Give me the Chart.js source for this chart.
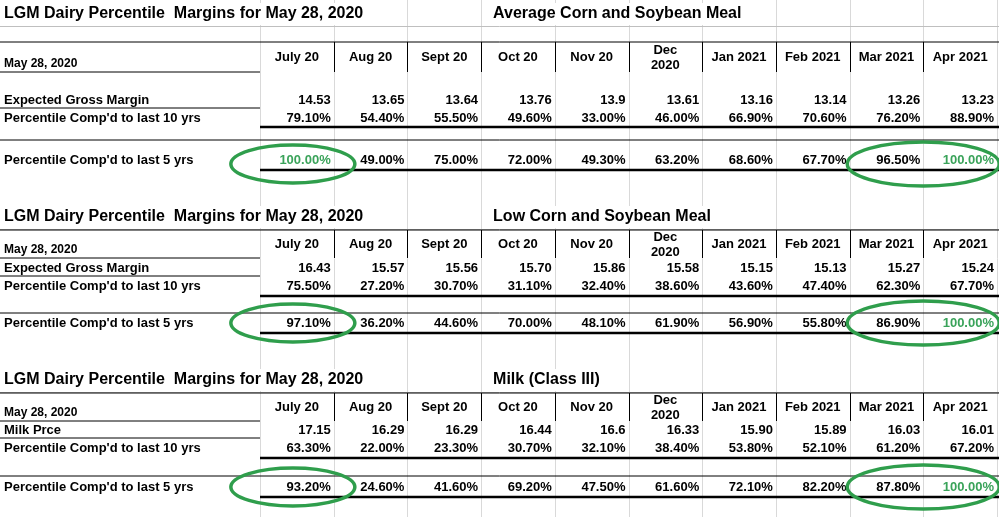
<!DOCTYPE html>
<html><head><meta charset="utf-8">
<script src="https://cdn.jsdelivr.net/npm/chart.js@4/dist/chart.umd.min.js"></script>
<style>html,body{margin:0;padding:0;background:#fff;overflow:hidden}</style>
</head><body>
<canvas id="c" width="999" height="517"></canvas>
<script>
// column headers
const months = ['July 20', 'Aug 20', 'Sept 20', 'Oct 20', 'Nov 20', ['Dec', '2020'], 'Jan 2021', 'Feb 2021', 'Mar 2021', 'Apr 2021'];

// Average corn and soybean meal
const avgMargin = ['14.53', '13.65', '13.64', '13.76', '13.9', '13.61', '13.16', '13.14', '13.26', '13.23'];
const avgPct10 = [79.1, 54.4, 55.5, 49.6, 33.0, 46.0, 66.9, 70.6, 76.2, 88.9];
const avgPct5 = [100, 49.0, 75.0, 72.0, 49.3, 63.2, 68.6, 67.7, 96.5, 100];

// Low corn and soybean meal
const lowMargin = ['16.43', '15.57', '15.56', '15.70', '15.86', '15.58', '15.15', '15.13', '15.27', '15.24'];
const lowPct10 = [75.5, 27.2, 30.7, 31.1, 32.4, 38.6, 43.6, 47.4, 62.3, 67.7];
const lowPct5 = [97.1, 36.2, 44.6, 70.0, 48.1, 61.9, 56.9, 55.8, 86.9, 100];

// Milk (Class III)
const milkPrice = ['17.15', '16.29', '16.29', '16.44', '16.6', '16.33', '15.90', '15.89', '16.03', '16.01'];
const milkPct10 = [63.3, 22.0, 23.3, 30.7, 32.1, 38.4, 53.8, 52.1, 61.2, 67.2];
const milkPct5 = [93.2, 24.6, 41.6, 69.2, 47.5, 61.6, 72.1, 82.2, 87.8, 100];

const sections = [
  {sub: 'Average Corn and Soybean Meal', row1: 'Expected Gross Margin', v1: avgMargin, v10: avgPct10, v5: avgPct5, green: [0, 9],
   y: {title: 14, top: 42, head: 57, label: 64, under: 72, r1: 100, r1line: 108, r10: 118, thick1: 127, r5line: 140, r5: 160, thick2: 170, ell: 164}},
  {sub: 'Low Corn and Soybean Meal', row1: 'Expected Gross Margin', v1: lowMargin, v10: lowPct10, v5: lowPct5, green: [9],
   y: {title: 217, top: 230, head: 244, label: 250, under: 258, r1: 268, r1line: 276, r10: 286, thick1: 296, r5line: 313, r5: 323, thick2: 333, ell: 323}},
  {sub: 'Milk (Class III)', row1: 'Milk Prce', v1: milkPrice, v10: milkPct10, v5: milkPct5, green: [9],
   y: {title: 380, top: 393, head: 407, label: 413, under: 421, r1: 430, r1line: 438, r10: 448, thick1: 458, r5line: 476, r5: 487, thick2: 497, ell: 487}}
];

const pct = v => v.toFixed(2) + '%';

const tablePlugin = {
  id: 'table',
  afterDraw(chart) {
    const ctx = chart.ctx, x = chart.scales.x, y = chart.scales.y;
    const colW = x.getPixelForValue(1) - x.getPixelForValue(0);
    const left = i => x.getPixelForValue(i) - colW / 2;
    const right = i => x.getPixelForValue(i) + colW / 2;
    const labelEnd = left(0);
    ctx.save();
    // faint spreadsheet gridlines
    ctx.strokeStyle = '#d9d9d9'; ctx.lineWidth = 1;
    for (let i = 0; i <= months.length; i++) {
      const px = Math.round(left(0) + i * colW) + 0.5;
      ctx.beginPath(); ctx.moveTo(px, 0); ctx.lineTo(px, 517); ctx.stroke();
    }
    const hline = (x0, x1, py, w, col) => {
      ctx.strokeStyle = col; ctx.lineWidth = w;
      ctx.beginPath(); ctx.moveTo(x0, py); ctx.lineTo(x1, py); ctx.stroke();
    };
    sections.forEach(s => {
      const Y = k => y.getPixelForValue(s.y[k]);
      ctx.textBaseline = 'middle';
      ctx.font = 'bold 16px "Liberation Sans", Arial, sans-serif';
      ctx.textAlign = 'left';
      const t1 = 'LGM Dairy Percentile  Margins for May 28, 2020';
      const t2x = left(3) + 12;
      ctx.fillStyle = '#fff';
      ctx.fillRect(0, Y('title') - 11, ctx.measureText(t1).width + 8, 22);
      ctx.fillRect(t2x - 4, Y('title') - 11, ctx.measureText(s.sub).width + 8, 22);
      ctx.fillStyle = '#000';
      ctx.fillText(t1, 4, Y('title'));
      ctx.fillText(s.sub, t2x, Y('title'));
      hline(0, 999, Y('title') + 12.5, 1, '#bfbfbf');
      hline(0, 999, Y('top'), 1, '#000');
      // header cells
      ctx.font = 'bold 13px "Liberation Sans", Arial, sans-serif';
      ctx.textAlign = 'center';
      months.forEach((m, i) => {
        const cx = x.getPixelForValue(i);
        if (Array.isArray(m)) {
          ctx.fillText(m[0], cx, Y('head') - 7);
          ctx.fillText(m[1], cx, Y('head') + 8);
        } else ctx.fillText(m, cx, Y('head'));
        if (i > 0) {
          ctx.strokeStyle = '#000'; ctx.lineWidth = 1;
          ctx.beginPath(); ctx.moveTo(Math.round(left(i)) + 0.5, Y('top')); ctx.lineTo(Math.round(left(i)) + 0.5, Y('under')); ctx.stroke();
        }
      });
      ctx.textAlign = 'left';
      ctx.font = 'bold 12px "Liberation Sans", Arial, sans-serif';
      ctx.fillText('May 28, 2020', 4, Y('label'));
      hline(0, labelEnd, Y('under'), 1, '#000');
      ctx.font = 'bold 13px "Liberation Sans", Arial, sans-serif';
      ctx.fillText(s.row1, 4, Y('r1'));
      hline(0, labelEnd, Y('r1line'), 1, '#000');
      ctx.fillText("Percentile Comp'd to last 10 yrs", 4, Y('r10'));
      ctx.fillText("Percentile Comp'd to last 5 yrs", 4, Y('r5'));
      hline(labelEnd, 999, Y('thick1'), 2.5, '#000');
      hline(0, 999, Y('r5line'), 1, '#000');
      hline(labelEnd, 999, Y('thick2'), 2.5, '#000');
      // values
      ctx.textAlign = 'right';
      months.forEach((m, i) => {
        const rx = right(i) - 3;
        ctx.fillStyle = '#000';
        ctx.fillText(s.v1[i], rx, Y('r1'));
        ctx.fillText(pct(s.v10[i]), rx, Y('r10'));
        ctx.fillStyle = s.green.includes(i) ? '#3aa35a' : '#000';
        ctx.fillText(pct(s.v5[i]), rx, Y('r5'));
      });
      // green highlight ellipses
      ctx.strokeStyle = '#2f9e4c'; ctx.lineWidth = 3.5;
      ctx.beginPath();
      ctx.ellipse(x.getPixelForValue(0) - 4, Y('ell'), 62, 19, 0, 0, Math.PI * 2);
      ctx.stroke();
      ctx.beginPath();
      ctx.ellipse(right(8), Y('ell'), 76, 22, 0, 0, Math.PI * 2);
      ctx.stroke();
    });
    ctx.restore();
  }
};

new Chart(document.getElementById('c'), {
  type: 'bar',
  data: {labels: months, datasets: [{data: []}]},
  options: {
    responsive: false,
    animation: false,
    layout: {padding: {left: 260, right: 2, top: 0, bottom: 0}},
    plugins: {legend: {display: false}, tooltip: {enabled: false}},
    scales: {
      x: {type: 'category', display: false, offset: true},
      y: {type: 'linear', display: false, min: 0, max: 517, reverse: true}
    }
  },
  plugins: [tablePlugin]
});
</script>
</body></html>
